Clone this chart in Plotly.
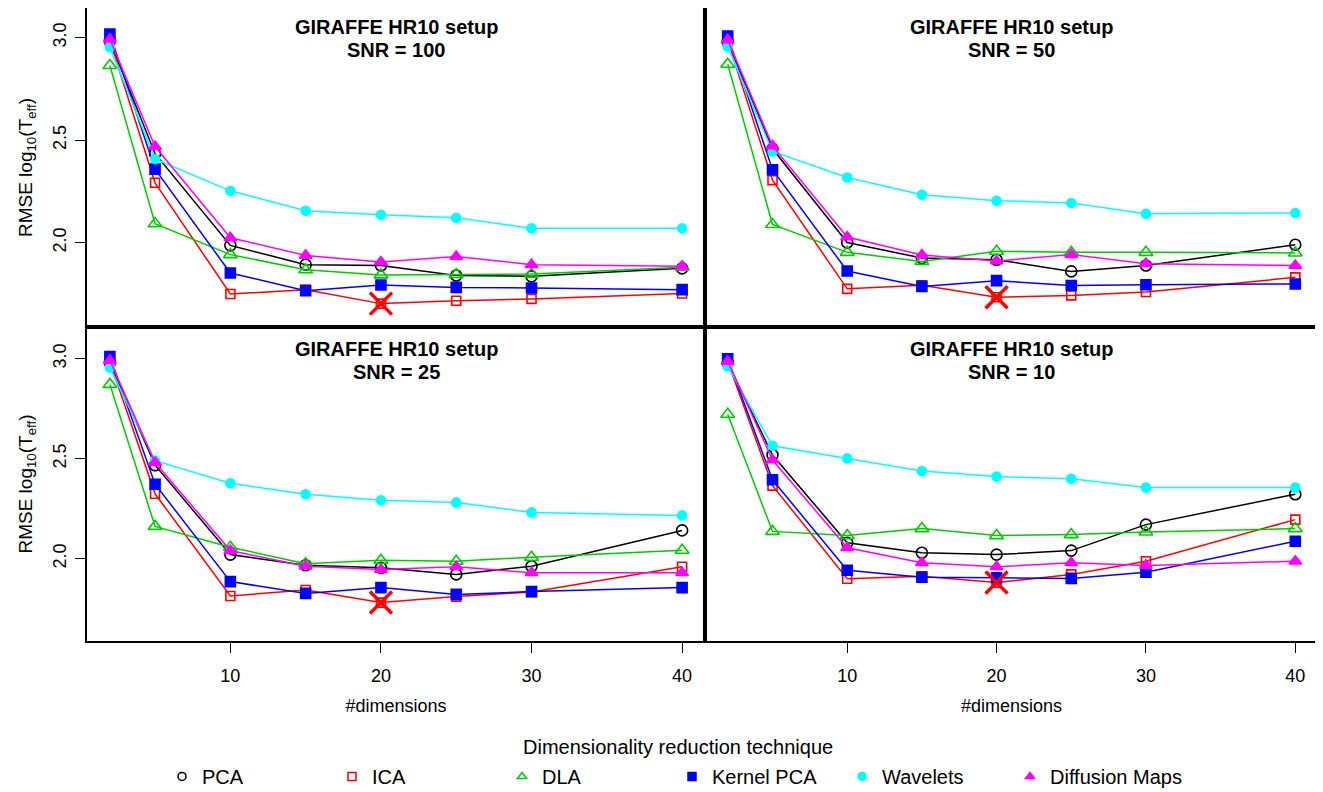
import plotly.graph_objects as go

# ---------------- data ----------------
dims = [2, 5, 10, 15, 20, 25, 30, 40]
methods = ["PCA", "ICA", "DLA", "Kernel PCA", "Wavelets", "Diffusion Maps"]
snr_labels = ["SNR = 100", "SNR = 50", "SNR = 25", "SNR = 10"]
setup_label = "GIRAFFE HR10 setup"
legend_title = "Dimensionality reduction technique"

snr100_pca = [2.984, 2.434, 1.987, 1.893, 1.889, 1.840, 1.836, 1.875]
snr100_ica = [2.985, 2.292, 1.750, 1.771, 1.703, 1.717, 1.726, 1.752]
snr100_dla = [2.864, 2.093, 1.942, 1.868, 1.843, 1.845, 1.847, 1.880]
snr100_kpca = [3.017, 2.359, 1.852, 1.766, 1.794, 1.782, 1.779, 1.771]
snr100_wav = [2.953, 2.408, 2.253, 2.156, 2.136, 2.122, 2.070, 2.070]
snr100_dm = [2.992, 2.469, 2.024, 1.938, 1.906, 1.933, 1.893, 1.885]

snr50_pca = [2.981, 2.458, 2.001, 1.925, 1.917, 1.860, 1.889, 1.990]
snr50_ica = [2.985, 2.305, 1.775, 1.792, 1.734, 1.743, 1.760, 1.831]
snr50_dla = [2.870, 2.089, 1.953, 1.909, 1.958, 1.953, 1.953, 1.950]
snr50_kpca = [3.008, 2.356, 1.862, 1.787, 1.815, 1.791, 1.795, 1.799]
snr50_wav = [2.956, 2.445, 2.318, 2.234, 2.205, 2.193, 2.141, 2.145]
snr50_dm = [2.989, 2.472, 2.028, 1.940, 1.911, 1.942, 1.898, 1.889]

snr25_pca = [2.983, 2.468, 2.021, 1.968, 1.955, 1.922, 1.963, 2.142]
snr25_ica = [2.985, 2.325, 1.814, 1.844, 1.781, 1.811, 1.834, 1.960]
snr25_dla = [2.872, 2.162, 2.058, 1.975, 1.993, 1.988, 2.008, 2.043]
snr25_kpca = [3.011, 2.373, 1.886, 1.827, 1.856, 1.822, 1.836, 1.856]
snr25_wav = [2.955, 2.491, 2.378, 2.323, 2.293, 2.282, 2.232, 2.217]
snr25_dm = [2.992, 2.481, 2.041, 1.963, 1.947, 1.960, 1.930, 1.930]

snr10_pca = [2.980, 2.519, 2.080, 2.030, 2.021, 2.041, 2.171, 2.323]
snr10_ica = [2.985, 2.366, 1.900, 1.913, 1.881, 1.922, 1.988, 2.196]
snr10_dla = [2.723, 2.137, 2.116, 2.151, 2.116, 2.121, 2.134, 2.151]
snr10_kpca = [3.000, 2.395, 1.943, 1.908, 1.905, 1.902, 1.933, 2.088]
snr10_wav = [2.962, 2.565, 2.502, 2.439, 2.411, 2.400, 2.356, 2.356]
snr10_dm = [2.987, 2.494, 2.055, 1.980, 1.960, 1.980, 1.967, 1.988]

best_dim = [20, 20, 20, 20]          # best configuration (ICA) per panel
best_method = "ICA"

x_ticks = [10, 20, 30, 40]
y_ticks = [2.0, 2.5, 3.0]
y_ticktext = ["2.0", "2.5", "3.0"]

panels = [
    [snr100_pca, snr100_ica, snr100_dla, snr100_kpca, snr100_wav, snr100_dm],
    [snr50_pca, snr50_ica, snr50_dla, snr50_kpca, snr50_wav, snr50_dm],
    [snr25_pca, snr25_ica, snr25_dla, snr25_kpca, snr25_wav, snr25_dm],
    [snr10_pca, snr10_ica, snr10_dla, snr10_kpca, snr10_wav, snr10_dm],
]

# ---------------- styles ----------------
colors = ["#000000", "#FF0000", "#00CD00", "#0000FF", "#00FFFF", "#FF00FF"]
symbols = ["circle-open", "square-open", "triangle-up-open", "square", "circle", "triangle-up"]
msizes = [11, 9, 12, 10, 9, 11]

# page has an 8px body margin: the figure is drawn 8px right / 8px down
OFF = 8
W, H = 1323 - OFF, 792 - OFF


def px(xp):
    return (xp - OFF) / W


def py(yp):
    return 1 - (yp - OFF) / H


xl = [px(87), px(705)]
xr = [px(705), px(1318)]
yt = [py(327), 1.0]
yb = [py(641), py(327)]
domains = [(xl, yt), (xr, yt), (xl, yb), (xr, yb)]
yranges = [[1.589, 3.1444], [1.589, 3.1444], [1.589, 3.159], [1.589, 3.159]]
title_rows = [(27, 50), (27, 50), (349, 372), (349, 372)]

FONT = "Liberation Sans, Arial, Helvetica, sans-serif"

fig = go.Figure()

for p, series in enumerate(panels):
    ax = "" if p == 0 else str(p + 1)
    for m, vals in enumerate(series):
        fig.add_trace(go.Scatter(
            x=dims, y=vals, mode="lines+markers",
            xaxis="x" + ax, yaxis="y" + ax,
            line=dict(color=colors[m], width=1.5),
            marker=dict(symbol=symbols[m], size=msizes[m], color=colors[m],
                        line=dict(color=colors[m], width=1.6)),
            showlegend=False, hoverinfo="x+y", name=methods[m],
        ))
    bi = methods.index(best_method)
    fig.add_trace(go.Scatter(
        x=[best_dim[p]], y=[series[bi][dims.index(best_dim[p])]],
        mode="markers", xaxis="x" + ax, yaxis="y" + ax,
        marker=dict(symbol="x-thin", size=22, color="#FF0000",
                    line=dict(color="#FF0000", width=3.5)),
        showlegend=False, hoverinfo="skip",
    ))

# legend entries (last one in a second legend so its label is not clipped)
for m in range(6):
    fig.add_trace(go.Scatter(
        x=[None], y=[None], mode="markers", name=methods[m],
        marker=dict(symbol=symbols[m], size=8, color=colors[m],
                    line=dict(color=colors[m], width=1.5)),
        showlegend=True, legend="legend" if m < 5 else "legend2",
    ))

annotations = [dict(
    text=legend_title, xref="paper", yref="paper",
    x=px(678), y=py(747), xanchor="center", yanchor="middle",
    showarrow=False, font=dict(size=20, color="black"),
)]

leg_common = dict(
    orientation="h", y=-0.005, yanchor="bottom",
    font=dict(size=20), bgcolor="rgba(0,0,0,0)", borderwidth=0,
    itemclick=False, itemdoubleclick=False,
)

layout = dict(
    width=W, height=H,
    margin=dict(l=0, r=0, t=0, b=0, autoexpand=False),
    plot_bgcolor="white", paper_bgcolor="white",
    font=dict(family=FONT, color="black", size=17),
    showlegend=True,
    legend=dict(x=px(162), xanchor="left", entrywidth=125, entrywidthmode="pixels",
                **leg_common),
    legend2=dict(x=px(1010), xanchor="left", **leg_common),
)

for p in range(4):
    ax = "" if p == 0 else str(p + 1)
    dx, dy = domains[p]
    bottom = p >= 2
    left = p % 2 == 0
    xa = dict(
        domain=dx, anchor="y" + ax, range=[0.48, 41.52],
        showline=True, mirror=True, linecolor="black", linewidth=1.5,
        showgrid=False, zeroline=False, automargin=False,
        tickvals=x_ticks, ticks="outside" if bottom else "",
        ticklen=10, tickwidth=1.2, tickcolor="black",
        showticklabels=bottom, tickfont=dict(size=18),
    )
    if bottom:
        xa["ticklabelstandoff"] = 8
        xa["title"] = dict(text="#dimensions", font=dict(size=18), standoff=14)
    ya = dict(
        domain=dy, anchor="x" + ax, range=yranges[p],
        showline=True, mirror=True, linecolor="black", linewidth=1.5,
        showgrid=False, zeroline=False, automargin=False,
        tickvals=y_ticks, ticktext=y_ticktext,
        ticks="outside" if left else "", ticklen=10, tickwidth=1.2, tickcolor="black",
        showticklabels=left, tickangle=-90, tickfont=dict(size=18),
    )
    if left:
        ya["ticklabelstandoff"] = 2
        ya["title"] = dict(text="RMSE log<sub>10</sub>(T<sub>eff</sub>)",
                           font=dict(size=19), standoff=12)
    layout["xaxis" + ax] = xa
    layout["yaxis" + ax] = ya
    cx = (dx[0] + dx[1]) / 2
    for txt, yy in zip([setup_label, snr_labels[p]], title_rows[p]):
        annotations.append(dict(
            text="<b>" + txt + "</b>", xref="paper", yref="paper",
            x=cx, y=py(yy), xanchor="center", yanchor="middle",
            showarrow=False, font=dict(size=20, color="black"),
        ))

layout["annotations"] = annotations
fig.update_layout(**layout)
fig.write_html("out.html")
